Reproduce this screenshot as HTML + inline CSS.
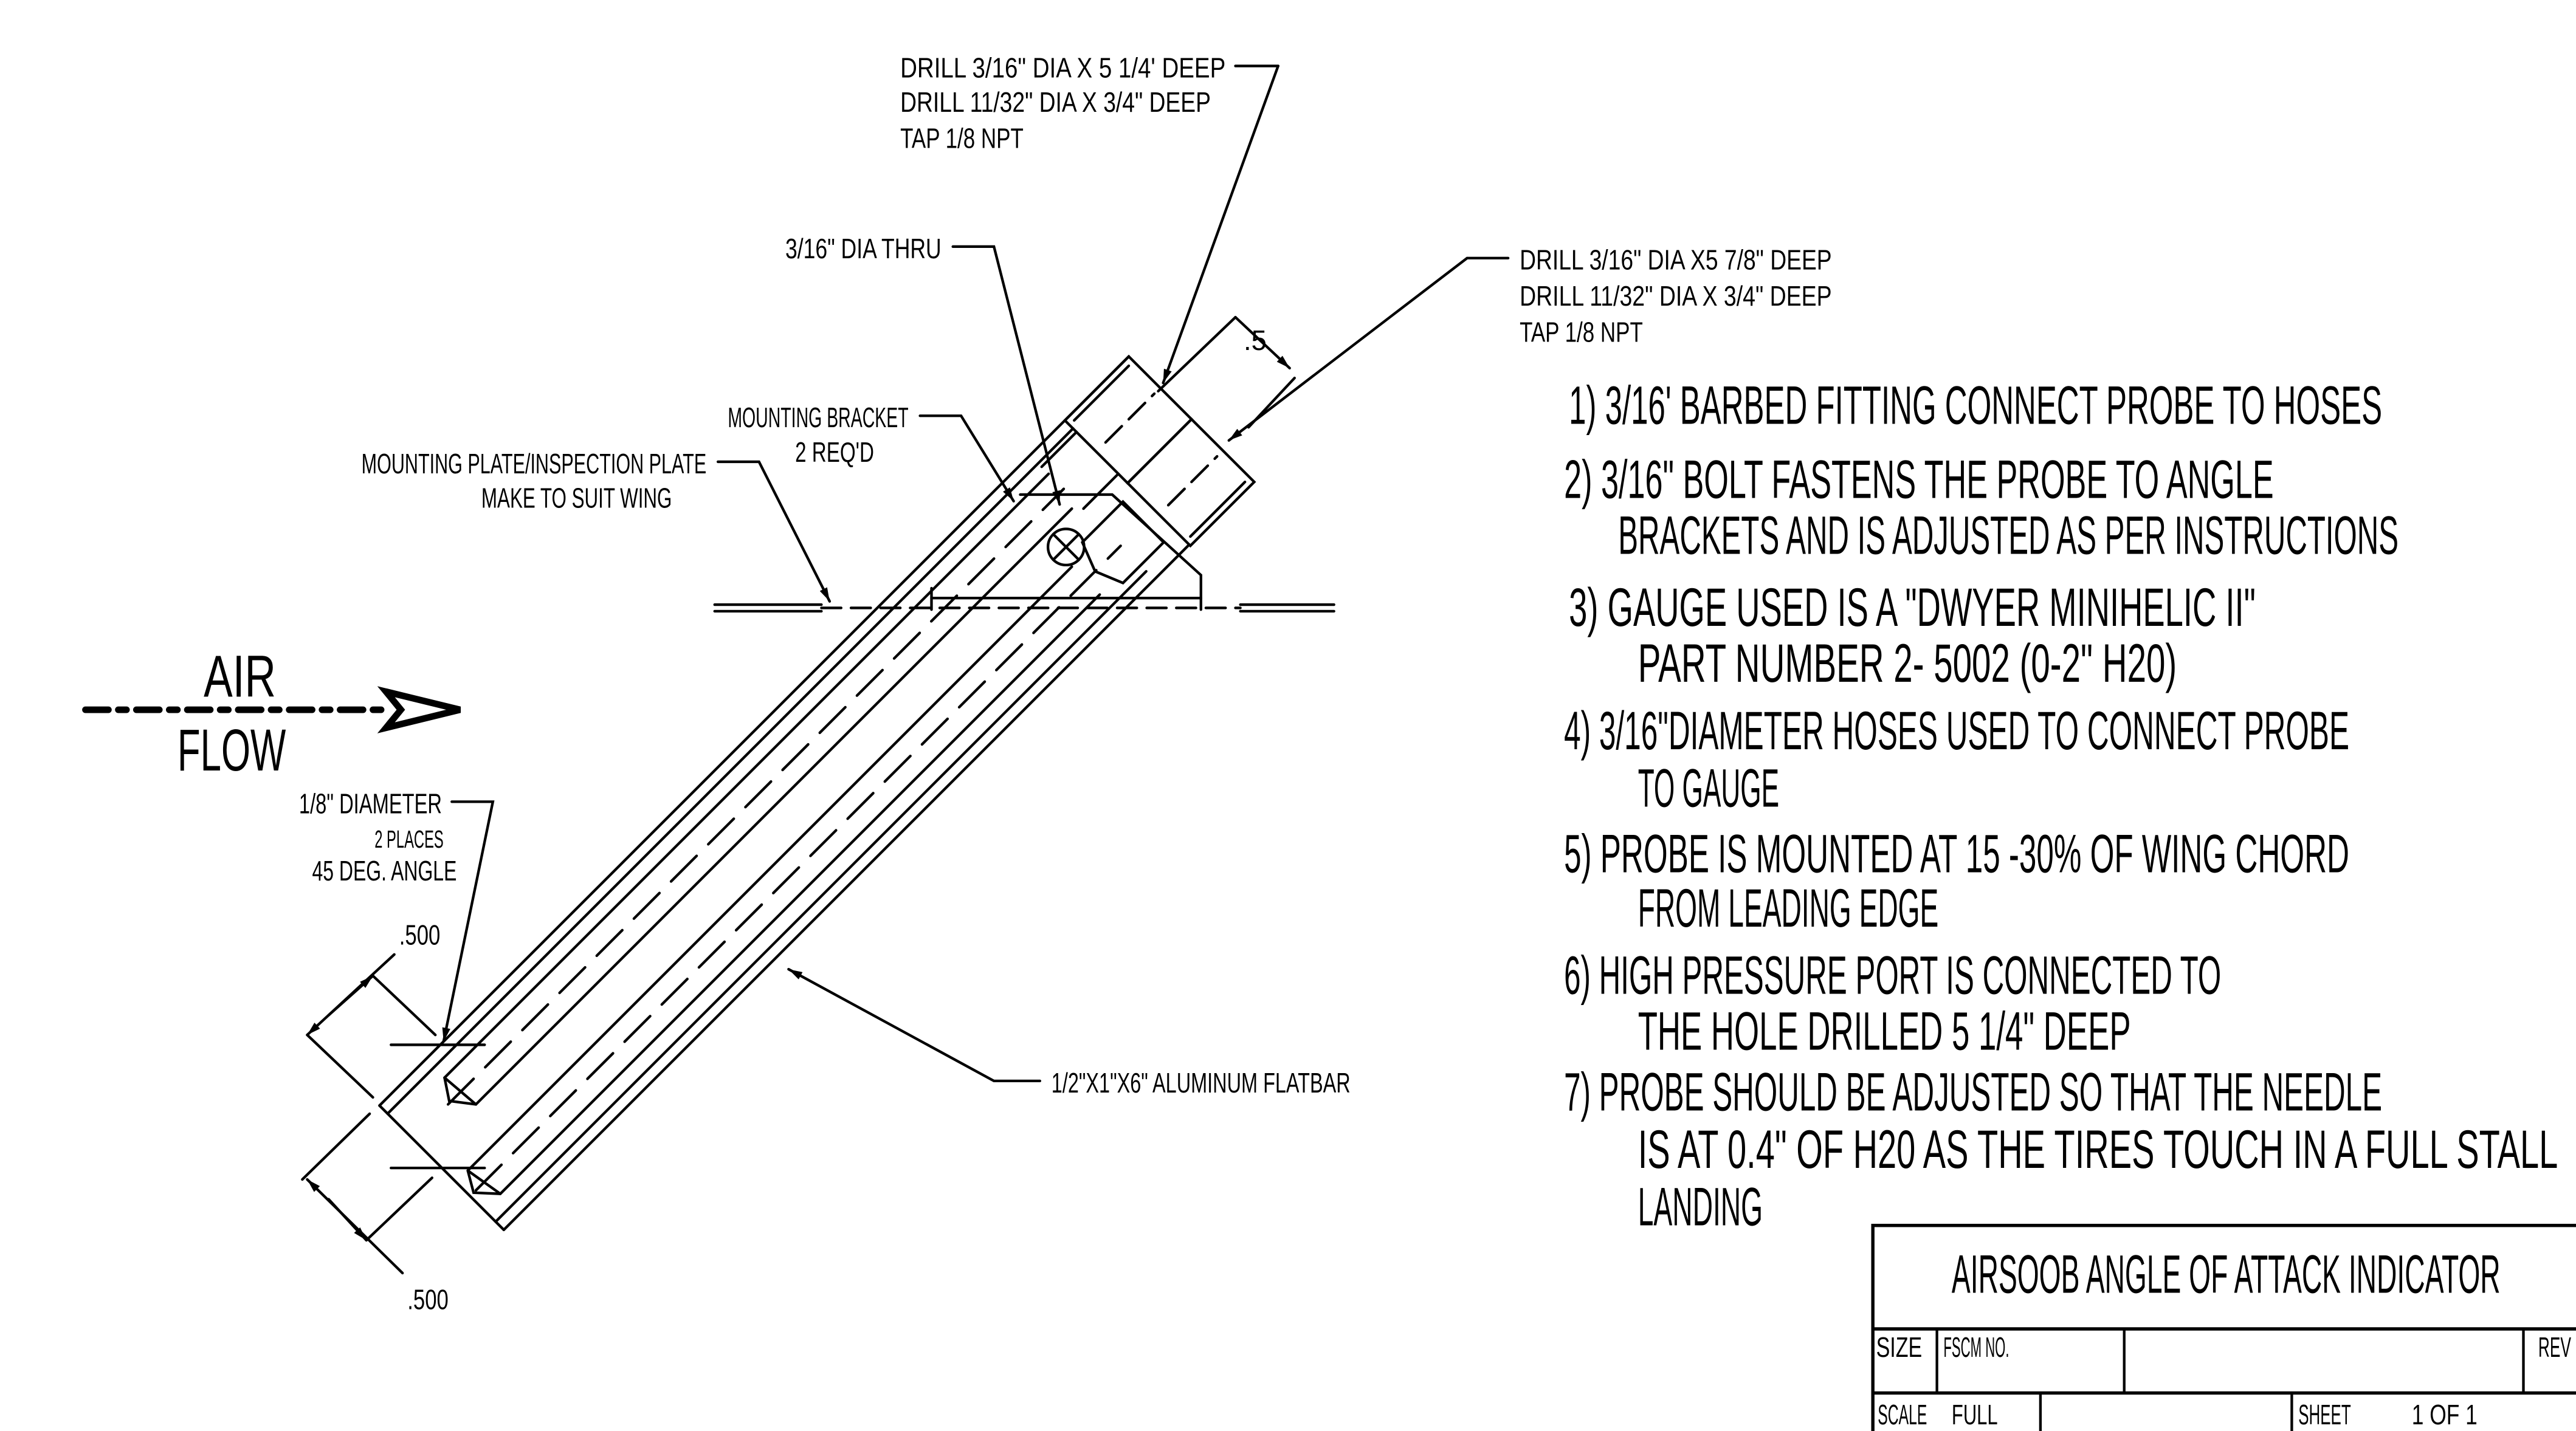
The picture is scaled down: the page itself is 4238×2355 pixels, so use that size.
<!DOCTYPE html>
<html><head><meta charset="utf-8"><style>
html,body{margin:0;padding:0;background:#fff;}
svg{display:block}
text{font-family:"Liberation Sans Narrow","Liberation Sans",sans-serif;fill:#000;}
</style></head><body>
<svg width="4238" height="2355" viewBox="0 0 1568 871" xmlns="http://www.w3.org/2000/svg">
<defs>
<marker id="ar" viewBox="0 0 10 6" refX="10" refY="3" markerWidth="9" markerHeight="5" orient="auto" markerUnits="userSpaceOnUse"><path d="M0,0 L10,3 L0,6 z" fill="#000"/></marker>
</defs>
<rect width="1568" height="871" fill="#fff"/>
<g stroke="#000" fill="none" stroke-width="1.6" stroke-linecap="round">
<g transform="translate(231,673) rotate(-45)">
  <line x1="0" y1="0" x2="645" y2="0"/>
  <line x1="0" y1="107" x2="590" y2="107"/>
  <line x1="0" y1="0" x2="0" y2="107"/>
  <line x1="0" y1="7" x2="590" y2="7"/>
  <line x1="0" y1="100" x2="560" y2="100"/>
  <line x1="40" y1="16" x2="560" y2="16"/>
  <line x1="42" y1="41" x2="555" y2="41"/>
  <line x1="40" y1="16" x2="42" y2="41"/>
  <path d="M40,16 L32,28 L42,41"/>
  <line x1="30" y1="29" x2="560" y2="29" stroke-dasharray="22,10"/>
  <line x1="10" y1="66" x2="530" y2="66"/>
  <line x1="14" y1="90" x2="530" y2="90"/>
  <line x1="10" y1="66" x2="14" y2="90"/>
  <path d="M10,66 L3,78 L14,90"/>
  <line x1="5" y1="78" x2="560" y2="78" stroke-dasharray="22,10"/>
  <rect x="590" y="0" width="55" height="54"/>
  <rect x="590" y="54" width="55" height="54"/>
  <line x1="594" y1="4" x2="641" y2="4"/>
  <line x1="594" y1="104" x2="641" y2="104"/>
  <line x1="598" y1="27" x2="640" y2="27" stroke-dasharray="14,6"/>
  <line x1="598" y1="81" x2="640" y2="81" stroke-dasharray="14,6"/>
  <line x1="560" y1="10" x2="590" y2="10"/>
  <line x1="560" y1="46" x2="590" y2="46"/>
  <path d="M545,60 L580,60 L580,95 L545,95 L538,78 z"/>
  <circle cx="536" cy="55" r="11"/>
  <line x1="525" y1="55" x2="547" y2="55"/>
  <line x1="536" y1="44" x2="536" y2="66"/>
</g>
<line x1="435" y1="368" x2="500" y2="368"/>
<line x1="435" y1="372" x2="500" y2="372"/>
<line x1="500" y1="370" x2="755" y2="370" stroke-dasharray="12,6"/>
<line x1="755" y1="368" x2="812" y2="368"/>
<line x1="755" y1="372" x2="812" y2="372"/>
<polyline points="567,371 567,358"/>
<line x1="567" y1="364" x2="731" y2="364"/>
<polyline points="621,301 677,301 731,350 731,371"/>
<line x1="705" y1="238" x2="752" y2="193"/>
<line x1="752" y1="193" x2="785" y2="224" marker-end="url(#ar)"/>
<line x1="760" y1="260" x2="788" y2="230"/>
<polyline points="778,40 752,40" />
<line x1="778" y1="40" x2="708" y2="233" marker-end="url(#ar)"/>
<polyline points="918,157 893,157 748,268" marker-end="url(#ar)"/>
<polyline points="580,150 605,150 645,307" marker-end="url(#ar)"/>
<polyline points="560,253 585,253 617,305" marker-end="url(#ar)"/>
<polyline points="437,281 462,281 505,366" marker-end="url(#ar)"/>
<polyline points="275,488 300,488 270,634" marker-end="url(#ar)"/>
<polyline points="633,658 605,658 480,590" marker-end="url(#ar)"/>
<line x1="187" y1="630" x2="227" y2="668"/>
<line x1="227" y1="594" x2="265" y2="630"/>
<line x1="240" y1="581" x2="187" y2="630" marker-end="url(#ar)"/>
<line x1="200" y1="618" x2="227" y2="594" marker-end="url(#ar)"/>
<line x1="238" y1="636" x2="295" y2="636"/>
<line x1="238" y1="711" x2="295" y2="711"/>
<line x1="184" y1="718" x2="225" y2="678"/>
<line x1="223" y1="755" x2="263" y2="717"/>
<line x1="245" y1="775" x2="187" y2="718" marker-end="url(#ar)"/>
<line x1="200" y1="730" x2="223" y2="755" marker-end="url(#ar)"/>
<line x1="52" y1="432" x2="235" y2="432" stroke-width="4" stroke-dasharray="14,6,5,6"/>
<path d="M235,421 L280,432 L235,443 L244,432 z" stroke-width="4" fill="#fff"/>
<rect x="1140" y="746" width="440" height="140" stroke-width="2"/>
<line x1="1140" y1="809" x2="1568" y2="809" stroke-width="2"/>
<line x1="1140" y1="848" x2="1568" y2="848" stroke-width="2"/>
<line x1="1179" y1="809" x2="1179" y2="848"/>
<line x1="1293" y1="809" x2="1293" y2="848"/>
<line x1="1536" y1="809" x2="1536" y2="848"/>
<line x1="1242" y1="848" x2="1242" y2="871"/>
<line x1="1395" y1="848" x2="1395" y2="871"/>
</g>
<g font-size="17">
<text x="548" y="47" textLength="198" lengthAdjust="spacingAndGlyphs">DRILL 3/16" DIA X 5 1/4' DEEP</text>
<text x="548" y="68" textLength="189" lengthAdjust="spacingAndGlyphs">DRILL 11/32" DIA X 3/4" DEEP</text>
<text x="548" y="90" textLength="75" lengthAdjust="spacingAndGlyphs">TAP 1/8 NPT</text>
<text x="925" y="164" textLength="190" lengthAdjust="spacingAndGlyphs">DRILL 3/16" DIA X5 7/8" DEEP</text>
<text x="925" y="186" textLength="190" lengthAdjust="spacingAndGlyphs">DRILL 11/32" DIA X 3/4" DEEP</text>
<text x="925" y="208" textLength="75" lengthAdjust="spacingAndGlyphs">TAP 1/8 NPT</text>
<text x="478" y="157" textLength="95" lengthAdjust="spacingAndGlyphs">3/16" DIA THRU</text>
<text x="443" y="260" textLength="110" lengthAdjust="spacingAndGlyphs">MOUNTING BRACKET</text>
<text x="484" y="281" textLength="48" lengthAdjust="spacingAndGlyphs">2 REQ'D</text>
<text x="220" y="288" textLength="210" lengthAdjust="spacingAndGlyphs">MOUNTING PLATE/INSPECTION PLATE</text>
<text x="293" y="309" textLength="116" lengthAdjust="spacingAndGlyphs">MAKE TO SUIT WING</text>
<text x="182" y="495" textLength="87" lengthAdjust="spacingAndGlyphs">1/8" DIAMETER</text>
<text x="228" y="516" textLength="42" lengthAdjust="spacingAndGlyphs" font-size="15">2 PLACES</text>
<text x="190" y="536" textLength="88" lengthAdjust="spacingAndGlyphs">45 DEG. ANGLE</text>
<text x="243" y="575" textLength="25" lengthAdjust="spacingAndGlyphs">.500</text>
<text x="248" y="797" textLength="25" lengthAdjust="spacingAndGlyphs">.500</text>
<text x="640" y="665" textLength="182" lengthAdjust="spacingAndGlyphs">1/2"X1"X6" ALUMINUM FLATBAR</text>
<text x="757" y="213" textLength="14" lengthAdjust="spacingAndGlyphs">.5</text>
<text x="1142" y="826" textLength="28" lengthAdjust="spacingAndGlyphs">SIZE</text>
<text x="1183" y="826" textLength="40" lengthAdjust="spacingAndGlyphs">FSCM NO.</text>
<text x="1545" y="826" textLength="20" lengthAdjust="spacingAndGlyphs">REV</text>
<text x="1143" y="867" textLength="30" lengthAdjust="spacingAndGlyphs">SCALE</text>
<text x="1188" y="867" textLength="28" lengthAdjust="spacingAndGlyphs">FULL</text>
<text x="1399" y="867" textLength="32" lengthAdjust="spacingAndGlyphs">SHEET</text>
<text x="1468" y="867" textLength="40" lengthAdjust="spacingAndGlyphs">1 OF 1</text>
</g>
<text x="124" y="424" font-size="36" textLength="44" lengthAdjust="spacingAndGlyphs">AIR</text>
<text x="108" y="469" font-size="36" textLength="66" lengthAdjust="spacingAndGlyphs">FLOW</text>
<text x="1188" y="787" font-size="33" textLength="334" lengthAdjust="spacingAndGlyphs">AIRSOOB ANGLE OF ATTACK INDICATOR</text>
<g font-size="33">
<text x="955" y="258" textLength="495" lengthAdjust="spacingAndGlyphs">1) 3/16'  BARBED FITTING CONNECT PROBE TO HOSES</text>
<text x="952" y="303" textLength="432" lengthAdjust="spacingAndGlyphs">2) 3/16" BOLT FASTENS THE PROBE TO ANGLE</text>
<text x="985" y="337" textLength="475" lengthAdjust="spacingAndGlyphs">BRACKETS AND IS ADJUSTED AS PER INSTRUCTIONS</text>
<text x="955" y="381" textLength="418" lengthAdjust="spacingAndGlyphs">3) GAUGE USED IS A "DWYER MINIHELIC II"</text>
<text x="997" y="415" textLength="328" lengthAdjust="spacingAndGlyphs">PART NUMBER 2- 5002 (0-2" H20)</text>
<text x="952" y="456" textLength="478" lengthAdjust="spacingAndGlyphs">4) 3/16"DIAMETER HOSES USED TO CONNECT PROBE</text>
<text x="997" y="491" textLength="86" lengthAdjust="spacingAndGlyphs">TO GAUGE</text>
<text x="952" y="531" textLength="478" lengthAdjust="spacingAndGlyphs">5) PROBE IS MOUNTED AT 15 -30% OF WING CHORD</text>
<text x="997" y="564" textLength="183" lengthAdjust="spacingAndGlyphs">FROM LEADING EDGE</text>
<text x="952" y="605" textLength="400" lengthAdjust="spacingAndGlyphs">6) HIGH PRESSURE PORT IS CONNECTED TO</text>
<text x="997" y="639" textLength="300" lengthAdjust="spacingAndGlyphs">THE HOLE DRILLED 5 1/4" DEEP</text>
<text x="952" y="676" textLength="498" lengthAdjust="spacingAndGlyphs">7) PROBE SHOULD BE ADJUSTED SO THAT THE NEEDLE</text>
<text x="997" y="711" textLength="560" lengthAdjust="spacingAndGlyphs">IS AT 0.4" OF H20 AS THE TIRES TOUCH IN A FULL STALL</text>
<text x="997" y="746" textLength="76" lengthAdjust="spacingAndGlyphs">LANDING</text>
</g>
</svg>
</body></html>
